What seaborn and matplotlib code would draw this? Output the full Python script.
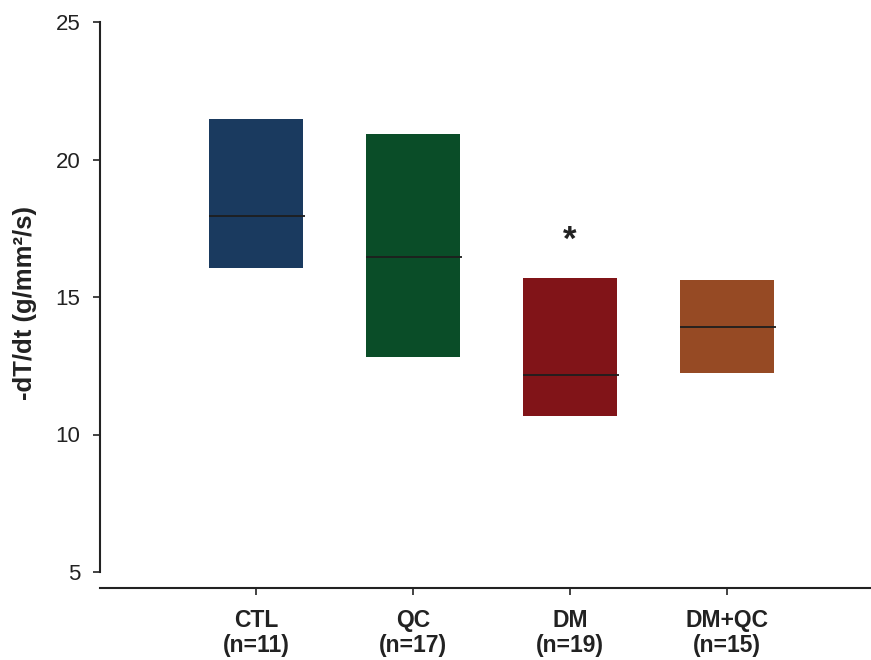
import matplotlib
matplotlib.use("Agg")
import matplotlib.pyplot as plt
import seaborn as sns
import pandas as pd

# Group summaries: range (low..high) and median of -dT/dt
groups = ["CTL\n(n=11)", "QC\n(n=17)", "DM\n(n=19)", "DM+QC\n(n=15)"]
lows = [16.07, 12.83, 10.68, 12.25]
highs = [21.47, 20.93, 15.69, 15.62]
medians = [17.95, 16.44, 12.16, 13.91]
colors = ["#1a3a5f", "#0a4d28", "#811418", "#964a24"]
yticks = [5, 10, 15, 20, 25]

sns.set_theme(style="ticks")
plt.rcParams["font.family"] = ["Liberation Sans", "DejaVu Sans"]

df = pd.DataFrame({
    "group": groups,
    "low": lows,
    "span": [h - l for h, l in zip(highs, lows)],
    "median": medians,
})

fig = plt.figure(figsize=(8.71, 6.6), dpi=100)
ax = fig.add_axes([100 / 871, 88 / 660, 771 / 871, 550 / 660])

# Floating bars spanning low..high for each group
sns.barplot(data=df, x="group", y="span", bottom=df["low"].to_numpy(),
            color=colors[0], width=0.6, linewidth=0, saturation=1,
            errorbar=None, ax=ax)
for patch, c in zip(ax.patches, colors):
    patch.set_facecolor(c)
    patch.set_edgecolor("none")

# Median lines across each bar
for i, m in enumerate(df["median"]):
    ax.hlines(m, i - 0.3, i + 0.31, color="#1e1e1e", linewidth=1.3, zorder=3)

# Significance marker above DM
ax.text(2, 17.05, "*", ha="center", va="center", fontsize=25,
        fontweight="bold", color="#222222")

ax.set_ylim(5, 25)
ax.set_xlim(-0.994, 3.917)
ax.set_yticks(yticks)
ax.set_yticklabels([str(t) for t in yticks])
ax.set_xlabel("")
ax.set_ylabel("-dT/dt (g/mm²/s)", fontsize=18.5, fontweight="bold", color="#222222")
ax.yaxis.set_label_coords(-0.082, 0.49)

sns.despine(ax=ax)
ax.spines["bottom"].set_position(("outward", 11.5))
for s in ("left", "bottom"):
    ax.spines[s].set_color("#222222")
    ax.spines[s].set_linewidth(1.5)

ax.tick_params(axis="y", labelsize=16, length=5, width=1.2, pad=9,
               colors="#222222", labelcolor="#222222")
ax.tick_params(axis="x", labelsize=16.5, length=5, width=1.2, pad=10,
               colors="#222222", labelcolor="#222222")
for lbl in ax.get_xticklabels():
    lbl.set_fontweight("bold")
    lbl.set_linespacing(1.1)

fig.savefig("out.png", dpi=100)
